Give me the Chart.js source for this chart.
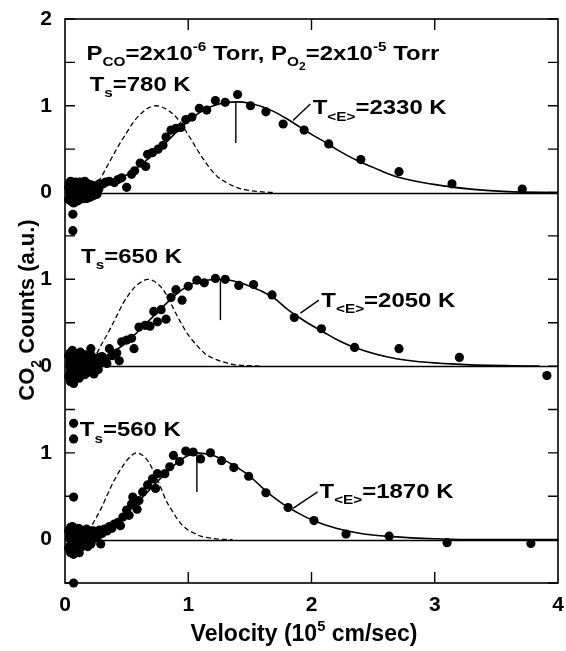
<!DOCTYPE html>
<html>
<head>
<meta charset="utf-8">
<script src="https://cdn.jsdelivr.net/npm/chart.js@4.4.1/dist/chart.umd.min.js"></script>
<style>
  html, body { margin: 0; padding: 0; background: #fff; }
  #wrap { width: 566px; height: 651px; }
</style>
</head>
<body>
<div id="wrap"><canvas id="chart" width="566" height="651"></canvas></div>
<script>
// ─── DATA (velocity in 1e5 cm/s, counts in a.u., local to each panel) ───
const xTicks = [0, 1, 2, 3, 4];
const yTickValues = [0, 1, 2, 3, 4, 5, 6];
const yTickLabels = ['0', '1', '0', '1', '0', '1', '2'];

// Ts = 780 K (top panel)
const pts780X = [0.064,0.064,0.04,0.04,0.04,0.05,0.05,0.05,0.05,0.06,0.06,0.06,0.07,0.07,0.07,0.08,0.08,0.09,0.09,0.10,0.10,0.11,0.12,0.12,0.13,0.14,0.15,0.16,0.16,0.17,0.18,0.19,0.20,0.21,0.22,0.23,0.24,0.25,0.26,0.27,0.28,0.31,0.33,0.36,0.40,0.43,0.46,0.50,0.54,0.565,0.61,0.655,0.67,0.71,0.755,0.795,0.82,0.86,0.90,0.94,0.98,1.03,1.09,1.15,1.22,1.30,1.40,1.505,1.63,1.77,1.94,2.14,2.40,2.71,3.14,3.71,
  0.03,0.03,0.035,0.045,0.045,0.055,0.065,0.075,0.085,0.095,0.105,0.115,0.125,0.135,0.145,0.155,0.165,0.175,0.185,0.195,0.205,0.215,0.225,0.235,0.245,0.255,0.265,0.275];
const pts780Y = [-0.25,-0.44,0.02,-0.05,0.08,-0.10,0.00,0.05,-0.03,0.10,-0.08,0.03,-0.02,0.06,-0.12,0.00,0.09,-0.06,0.04,-0.02,0.07,-0.09,0.01,0.12,-0.04,0.05,-0.07,0.02,0.13,-0.03,0.06,-0.06,0.02,0.09,-0.04,0.04,0.00,0.07,-0.02,0.05,0.10,0.10,0.12,0.13,0.115,0.15,0.17,0.06,0.21,0.25,0.34,0.30,0.44,0.46,0.50,0.545,0.64,0.72,0.74,0.75,0.84,0.87,0.97,0.95,1.06,1.04,1.13,1.00,0.93,0.79,0.72,0.56,0.38,0.24,0.10,0.04,
  0.06,-0.08,0.11,-0.01,0.13,-0.06,0.11,-0.09,0.12,-0.10,0.03,0.10,-0.06,0.08,0.00,-0.04,0.09,-0.07,0.10,0.04,-0.05,0.01,0.08,-0.03,0.05,0.02,0.08,0.04];
const fit780X = [0.15,0.25,0.35,0.45,0.55,0.65,0.75,0.85,0.95,1.05,1.15,1.25,1.39,1.5,1.6,1.7,1.8,1.9,2.0,2.1,2.2,2.3,2.4,2.5,2.67,3.07,3.59,4.0];
const fit780Y = [0.01,0.04,0.09,0.16,0.25,0.36,0.48,0.62,0.76,0.88,0.97,1.02,1.045,1.03,0.99,0.93,0.85,0.76,0.67,0.59,0.50,0.42,0.35,0.29,0.19,0.077,0.01,0.0];
const dash780X = [0.1,0.2,0.28,0.36,0.43,0.5,0.56,0.61,0.67,0.74,0.81,0.88,0.93,0.97,1.02,1.07,1.12,1.17,1.24,1.31,1.39,1.47,1.58,1.7];
const dash780Y = [0.0,0.04,0.15,0.35,0.53,0.69,0.82,0.90,0.97,1.0,0.97,0.90,0.82,0.73,0.62,0.50,0.39,0.29,0.18,0.115,0.06,0.03,0.01,0.0];
const peak780 = { x: 1.386, y0: 0.57, y1: 1.045 };

// Ts = 650 K (middle panel)
const pts650X = [0.04,0.04,0.04,0.05,0.05,0.05,0.05,0.06,0.06,0.06,0.07,0.07,0.07,0.08,0.08,0.09,0.09,0.10,0.10,0.11,0.12,0.12,0.13,0.14,0.15,0.16,0.17,0.18,0.19,0.20,0.21,0.22,0.23,0.24,0.26,0.27,0.29,0.30,0.32,0.34,0.36,0.38,0.40,0.42,0.44,0.46,0.50,0.54,0.56,0.60,0.65,0.69,0.72,0.75,0.78,0.82,0.86,0.90,0.95,1.00,1.07,1.13,1.22,1.30,1.41,1.53,1.68,1.86,2.08,2.35,2.71,3.20,3.91,
  0.03,0.03,0.035,0.045,0.045,0.055,0.055,0.065,0.075,0.085,0.095,0.105,0.115,0.125,0.135,0.145,0.155,0.165,0.175,0.185,0.195,0.205,0.215,0.225,0.235,0.25,0.28,0.31];
const pts650Y = [0.05,-0.08,0.15,-0.15,0.00,0.10,-0.04,0.18,-0.11,0.06,-0.20,0.02,0.12,-0.06,0.08,-0.13,0.03,0.14,-0.03,0.07,-0.09,0.01,0.11,-0.05,0.04,-0.10,0.08,-0.02,0.05,0.00,0.20,-0.06,0.06,0.02,0.09,-0.04,0.05,0.11,0.08,0.03,0.20,0.12,0.13,0.15,0.06,0.28,0.30,0.32,0.20,0.45,0.47,0.46,0.63,0.51,0.65,0.54,0.79,0.88,0.76,0.92,0.99,0.96,1.01,1.00,0.93,0.94,0.82,0.56,0.43,0.215,0.20,0.10,-0.11,
  0.12,-0.12,0.00,-0.18,0.08,0.15,-0.07,-0.15,0.09,0.13,-0.08,0.05,-0.14,0.16,0.02,0.10,-0.03,0.13,-0.08,0.09,-0.04,0.07,0.12,0.00,-0.09,0.03,0.10,0.05];
const fit650X = [0.15,0.25,0.35,0.45,0.55,0.65,0.75,0.85,0.95,1.05,1.15,1.26,1.4,1.5,1.6,1.7,1.8,1.9,2.0,2.1,2.2,2.35,2.69,3.21,3.85];
const fit650Y = [0.02,0.06,0.13,0.22,0.34,0.48,0.62,0.76,0.88,0.96,0.99,1.0,0.97,0.92,0.86,0.78,0.66,0.56,0.47,0.39,0.31,0.215,0.085,0.02,0.0];
const dash650X = [0.1,0.18,0.25,0.3,0.36,0.42,0.47,0.52,0.565,0.62,0.67,0.72,0.78,0.82,0.86,0.91,0.96,1.01,1.07,1.13,1.2,1.28,1.36,1.47,1.58];
const dash650Y = [0.0,0.04,0.13,0.26,0.41,0.58,0.72,0.83,0.91,0.97,1.0,0.98,0.91,0.83,0.72,0.58,0.45,0.34,0.24,0.15,0.09,0.05,0.02,0.005,0.0];
const peak650 = { x: 1.261, y0: 0.53, y1: 1.0 };

// Ts = 560 K (bottom panel)
const pts560X = [0.07,0.07,0.07,0.07,0.04,0.04,0.04,0.05,0.05,0.05,0.06,0.06,0.06,0.07,0.07,0.08,0.08,0.09,0.09,0.10,0.10,0.11,0.12,0.13,0.14,0.15,0.16,0.17,0.18,0.19,0.20,0.21,0.22,0.23,0.24,0.25,0.27,0.29,0.30,0.32,0.34,0.36,0.38,0.40,0.43,0.45,0.47,0.50,0.52,0.54,0.55,0.585,0.60,0.63,0.67,0.71,0.735,0.75,0.81,0.85,0.88,0.93,0.98,1.04,1.10,1.18,1.27,1.37,1.49,1.63,1.81,2.02,2.28,2.63,3.10,3.78,
  0.03,0.03,0.035,0.045,0.045,0.055,0.055,0.065,0.075,0.085,0.095,0.105,0.115,0.125,0.135,0.145,0.155,0.165,0.175,0.185,0.195,0.205,0.215,0.225,0.26,0.28];
const pts560Y = [1.34,1.16,0.49,-0.50,0.03,-0.07,0.12,-0.13,0.00,0.08,-0.04,0.15,-0.10,0.05,-0.17,0.01,0.10,-0.06,0.06,-0.12,0.02,0.13,-0.03,0.07,-0.08,0.03,0.10,-0.02,0.05,0.00,0.08,-0.05,0.04,0.10,0.02,0.06,0.09,-0.05,0.07,0.12,0.10,0.15,0.13,0.18,0.20,0.16,0.26,0.34,0.28,0.41,0.49,0.35,0.45,0.55,0.63,0.70,0.59,0.76,0.76,0.84,0.97,0.90,1.02,1.01,0.93,1.00,0.91,0.83,0.73,0.54,0.37,0.22,0.065,0.04,-0.035,-0.045,
  0.10,-0.10,0.02,-0.15,0.14,0.05,-0.07,0.12,-0.12,0.07,-0.02,0.09,-0.15,0.04,0.11,-0.05,0.07,0.00,0.12,-0.08,0.04,0.10,-0.02,0.06,0.03,0.11];
const fit560X = [0.15,0.25,0.35,0.45,0.55,0.65,0.75,0.85,0.95,1.07,1.2,1.3,1.4,1.5,1.6,1.7,1.8,1.9,2.0,2.2,2.4,2.65,3.0,3.4,4.0];
const fit560Y = [0.03,0.07,0.14,0.24,0.37,0.52,0.67,0.81,0.93,1.0,0.97,0.91,0.83,0.73,0.60,0.48,0.38,0.30,0.23,0.13,0.07,0.035,0.01,0.0,0.0];
const dash560X = [0.08,0.15,0.2,0.24,0.29,0.335,0.38,0.43,0.47,0.5,0.54,0.58,0.62,0.66,0.7,0.74,0.78,0.82,0.87,0.92,0.98,1.04,1.1,1.17,1.26,1.36];
const dash560Y = [0.0,0.04,0.12,0.22,0.35,0.49,0.63,0.76,0.85,0.91,0.97,1.0,0.98,0.93,0.84,0.72,0.59,0.45,0.33,0.22,0.13,0.08,0.04,0.02,0.005,0.0];
const peak560 = { x: 1.07, y0: 0.55, y1: 1.0 };

// each panel sits on the shared y axis at this baseline
const panelOffsets = [4, 2, 0];

// ─── HELPERS ─────────────────────────────────────────
const FONT = '"Liberation Sans", Arial, Helvetica, sans-serif';

function pairs(xs, ys, off) {
  return xs.map((x, i) => ({ x, y: ys[i] + off }));
}

function pointSet(xs, ys, off) {
  return {
    data: pairs(xs, ys, off),
    showLine: false,
    pointRadius: 4.6,
    pointHoverRadius: 4.6,
    pointBackgroundColor: '#000',
    pointBorderWidth: 0,
    clip: false
  };
}

function lineSet(xs, ys, off, dashed) {
  return {
    data: pairs(xs, ys, off),
    showLine: true,
    borderColor: '#000',
    borderWidth: dashed ? 1.3 : 1.6,
    borderDash: dashed ? [5, 3] : [],
    pointRadius: 0,
    cubicInterpolationMode: 'monotone',
    fill: false
  };
}

function markSet(p, off) {
  return {
    data: [{ x: p.x, y: p.y0 + off }, { x: p.x, y: p.y1 + off }],
    showLine: true, borderColor: '#000', borderWidth: 1.4, pointRadius: 0
  };
}

function leaderSet(x0, y0, x1, y1, off) {
  return {
    data: [{ x: x0, y: y0 + off }, { x: x1, y: y1 + off }],
    showLine: true, borderColor: '#000', borderWidth: 1.4, pointRadius: 0
  };
}

// draw text made of [string, kind] parts, stretched by sx; returns width
function rich(ctx, parts, x, y, size, sx = 1, draw = true) {
  let cx = 0;
  ctx.save();
  ctx.translate(x, y);
  ctx.scale(sx, 1);
  parts.forEach(([t, kind]) => {
    let fs = size, dy = 0;
    if (kind === 'sub') { fs = size * 0.64; dy = size * 0.3; }
    if (kind === 'sup') { fs = size * 0.64; dy = -size * 0.42; }
    if (kind === 'subsub') { fs = size * 0.5; dy = size * 0.5; }
    ctx.font = `bold ${fs}px ${FONT}`;
    if (draw) ctx.fillText(t, cx, dy);
    cx += ctx.measureText(t).width;
  });
  ctx.restore();
  return cx * sx;
}

// ─── LABELS (data coords, baseline-left) ─────────────
const labels = [
  { x: 0.175, y: 5.53, parts: [['P'], ['CO', 'sub'], ['=2x10'], ['-6', 'sup'], [' Torr, P'], ['O', 'sub'], ['2', 'subsub'], ['=2x10'], ['-5', 'sup'], [' Torr']] },
  { x: 0.2, y: 5.17, parts: [['T'], ['s', 'sub'], ['=780 K']] },
  { x: 2.01, y: 4.9, parts: [['T'], ['<E>', 'sub'], ['=2330 K']] },
  { x: 0.13, y: 3.19, parts: [['T'], ['s', 'sub'], ['=650 K']] },
  { x: 2.08, y: 2.68, parts: [['T'], ['<E>', 'sub'], ['=2050 K']] },
  { x: 0.12, y: 1.19, parts: [['T'], ['s', 'sub'], ['=560 K']] },
  { x: 2.065, y: 0.48, parts: [['T'], ['<E>', 'sub'], ['=1870 K']] }
];

// ─── FRAME / TICKS / TEXT PLUGIN ─────────────────────
const framePlugin = {
  id: 'frame',
  beforeDatasetsDraw(chart) {
    const { ctx, chartArea: a, scales: { y } } = chart;
    ctx.save();
    ctx.strokeStyle = '#000';
    ctx.lineWidth = 1.3;
    panelOffsets.forEach(off => {
      const py = Math.round(y.getPixelForValue(off)) + 0.5;
      ctx.beginPath(); ctx.moveTo(a.left, py); ctx.lineTo(a.right, py); ctx.stroke();
    });
    ctx.restore();
  },
  afterDatasetsDraw(chart) {
    const { ctx, chartArea: a, scales: { x, y } } = chart;
    ctx.save();
    ctx.strokeStyle = '#000';
    ctx.lineWidth = 1.6;
    ctx.strokeRect(a.left, a.top, a.right - a.left, a.bottom - a.top);
    ctx.lineWidth = 1.4;
    ctx.beginPath();
    for (let v = -0.5; v <= 6.001; v += 0.5) {
      const py = y.getPixelForValue(v);
      ctx.moveTo(a.left, py); ctx.lineTo(a.left + 10, py);
      ctx.moveTo(a.right, py); ctx.lineTo(a.right - 10, py);
    }
    xTicks.slice(1, -1).forEach(v => {
      const px = x.getPixelForValue(v);
      ctx.moveTo(px, a.bottom); ctx.lineTo(px, a.bottom - 11);
      ctx.moveTo(px, a.top); ctx.lineTo(px, a.top + 11);
    });
    ctx.stroke();

    ctx.fillStyle = '#000';
    ctx.textBaseline = 'alphabetic';
    ctx.textAlign = 'left';
    labels.forEach(l => rich(ctx, l.parts, x.getPixelForValue(l.x), y.getPixelForValue(l.y), 21, 1.14));

    // x axis title
    const xt = [['Velocity (10'], ['5', 'sup'], [' cm/sec)']];
    const wx = rich(ctx, xt, 0, 0, 23, 1, false);
    rich(ctx, xt, 304 - wx / 2, 641, 23);

    // y axis title
    const yt = [['CO'], ['2', 'sub'], [' Counts (a.u.)']];
    const wy = rich(ctx, yt, 0, 0, 22, 1, false);
    ctx.translate(34, 310);
    ctx.rotate(-Math.PI / 2);
    rich(ctx, yt, -wy / 2, 0, 22);
    ctx.restore();
  }
};

// ─── DATASETS ────────────────────────────────────────
const [o780, o650, o560] = panelOffsets;
const datasets = [
  pointSet(pts780X, pts780Y, o780),
  pointSet(pts650X, pts650Y, o650),
  pointSet(pts560X, pts560Y, o560),
  lineSet(fit780X, fit780Y, o780, false),
  lineSet(fit650X, fit650Y, o650, false),
  lineSet(fit560X, fit560Y, o560, false),
  lineSet(dash780X, dash780Y, o780, true),
  lineSet(dash650X, dash650Y, o650, true),
  lineSet(dash560X, dash560Y, o560, true),
  markSet(peak780, o780),
  markSet(peak650, o650),
  markSet(peak560, o560),
  leaderSet(1.85, 0.83, 1.99, 1.02, o780),
  leaderSet(1.91, 0.61, 2.06, 0.76, o650),
  leaderSet(1.85, 0.36, 2.05, 0.55, o560)
];

// ─── CHART ───────────────────────────────────────────
new Chart(document.getElementById('chart').getContext('2d'), {
  type: 'scatter',
  data: { datasets },
  options: {
    responsive: false,
    animation: false,
    devicePixelRatio: 1,
    layout: { padding: { top: 19, right: 8, bottom: 0, left: 0 } },
    plugins: { legend: { display: false }, tooltip: { enabled: false } },
    scales: {
      x: {
        type: 'linear', min: 0, max: 4,
        grid: { display: false, drawTicks: false },
        border: { display: false },
        ticks: {
          stepSize: 1, padding: 10, color: '#000',
          font: { family: FONT, size: 21, weight: 'bold' },
          callback: v => xTicks.includes(v) ? String(v) : ''
        },
        afterFit(s) { s.height = 68; s.paddingLeft = 0; s.paddingRight = 0; }
      },
      y: {
        type: 'linear', min: -0.5, max: 6,
        grid: { display: false, drawTicks: false },
        border: { display: false },
        ticks: {
          stepSize: 0.5, padding: 13, color: '#000',
          font: { family: FONT, size: 21, weight: 'bold' },
          callback: v => {
            const i = yTickValues.indexOf(v);
            return i >= 0 ? yTickLabels[i] : '';
          }
        },
        afterFit(s) { s.width = 65; s.paddingTop = 0; s.paddingBottom = 0; }
      }
    }
  },
  plugins: [framePlugin]
});
</script>
</body>
</html>
